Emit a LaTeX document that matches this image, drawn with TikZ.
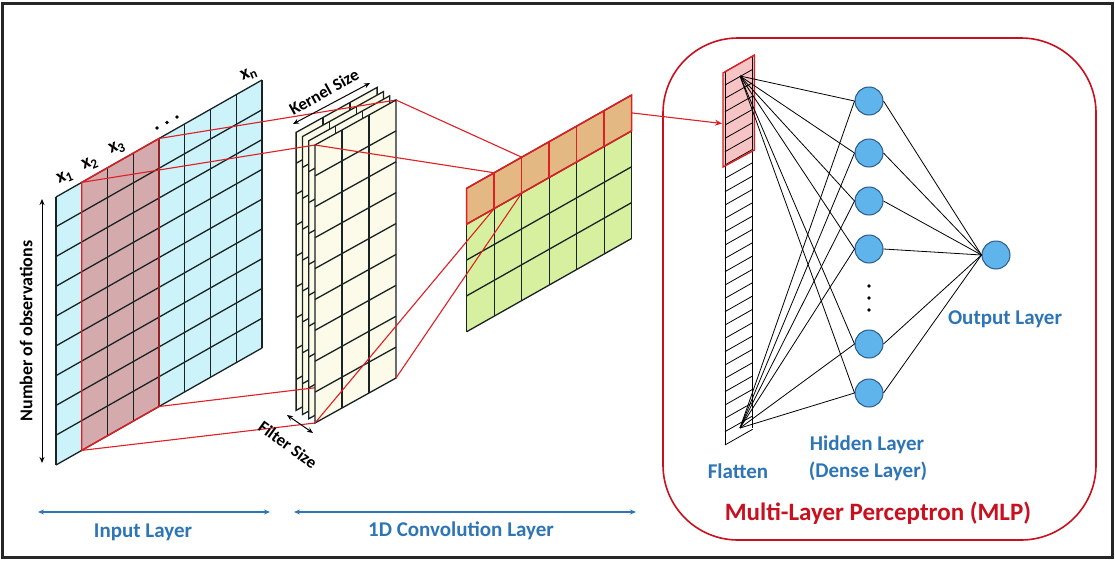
\documentclass[tikz,border=0pt]{standalone}
\usepackage{fontspec}
\setmainfont{Carlito}
\usetikzlibrary{arrows.meta}
\definecolor{cyanf}{RGB}{204,242,250}
\definecolor{rosef}{RGB}{212,170,172}
\definecolor{creamf}{RGB}{252,250,232}
\definecolor{greenf}{RGB}{214,240,160}
\definecolor{orangef}{RGB}{228,184,130}
\definecolor{pinkf}{RGB}{246,196,196}
\definecolor{redl}{RGB}{222,32,36}
\definecolor{mlpred}{RGB}{200,16,30}
\definecolor{bluet}{RGB}{46,117,182}
\definecolor{nodef}{RGB}{96,180,236}
\definecolor{noded}{RGB}{40,90,140}
\definecolor{gridc}{RGB}{25,35,35}
\tikzset{
  gridline/.style={draw=gridc, line width=1.3pt},
  thinline/.style={draw=black, line width=0.8pt},
  redline/.style={draw=redl, line width=1.1pt},
  nnline/.style={draw=black, line width=0.8pt},
  neuron/.style={circle, fill=nodef, draw=noded, line width=1pt, minimum size=28pt, inner sep=0pt},
  bluelabel/.style={text=bluet, font=\bfseries\fontsize{21}{24}\selectfont},
  blacklabel/.style={text=black, font=\bfseries\fontsize{17}{20}\selectfont},
  dimarrow/.style={draw=black, line width=1pt, {Stealth[length=6pt,width=5pt]}-{Stealth[length=6pt,width=5pt]}},
  layerarrow/.style={draw=bluet, line width=1.2pt, {Stealth[length=6pt,width=5pt]}-{Stealth[length=6pt,width=5pt]}},
}
\begin{document}
\begin{tikzpicture}[x=1pt,y=-1pt]
\useasboundingbox (0,0) rectangle (1115,562);
\fill[white] (0,0) rectangle (1115,562);
\draw[draw=black!85, line width=3pt] (2.5,3) rectangle (1112,557);

% ---------------- Input layer ----------------
\coordinate (iTL) at (56,197);
\coordinate (iTR) at (262,80);
\coordinate (iBR) at (262,348);
\coordinate (iBL) at (56,465);
\coordinate (inTL) at (81.75,182.375);
\coordinate (inTR) at (159,138.5);
\coordinate (inBR) at (159,406.5);
\coordinate (inBL) at (81.75,450.375);
\fill[cyanf] (iTL) -- (iTR) -- (iBR) -- (iBL) -- cycle;
\fill[rosef] (inTL) -- (inTR) -- (inBR) -- (inBL) -- cycle;
\foreach \i in {0,...,8} \draw[gridline] ({56+\i*25.75},{197-\i*14.625}) -- ++(0,268);
\foreach \j in {0,...,9} \draw[gridline] (56,{197+\j*29.778}) -- ++(206,-117);
\draw[redline, line width=1.4pt] (inTL) -- (inTR) -- (inBR) -- (inBL) -- cycle;

\node[blacklabel, font=\bfseries\fontsize{19}{22}\selectfont, rotate=22] (lx1) at (65,177) {x\textsubscript{1}};
\node[blacklabel, font=\bfseries\fontsize{19}{22}\selectfont, rotate=22] (lx2) at (90,164) {x\textsubscript{2}};
\node[blacklabel, font=\bfseries\fontsize{19}{22}\selectfont, rotate=22] (lx3) at (117,148) {x\textsubscript{3}};
\node[blacklabel, font=\bfseries\fontsize{19}{22}\selectfont, rotate=22] (lxn) at (249,74) {x\textsubscript{n}};
\fill (157,128) circle (1.9);
\fill (167,122.5) circle (1.9);
\fill (177,117) circle (1.9);

\coordinate (obsT) at (42,199);
\coordinate (obsB) at (42,463);
\draw[dimarrow] (obsT) -- (obsB);
\node[blacklabel, font=\bfseries\fontsize{18}{21}\selectfont, rotate=90] (obs) at (26,331) {Number of observations};

% ---------------- Filters (back sheets) ----------------
\foreach \k in {3,2,1} {
  \begin{scope}[shift={({-6.3*\k},{-4.2*\k})}]
    \filldraw[fill=creamf, gridline] (315,145) -- (396,100) -- (396,378) -- (315,423) -- cycle;
    \foreach \c in {1,2} \draw[gridline] ({315+\c*27},{145-\c*15}) -- ++(0,278);
    \foreach \j in {1,...,8} \draw[gridline] (315,{145+\j*30.89}) -- ++(81,-45);
  \end{scope}
}

\coordinate (fTL) at (315,145);
\coordinate (fTR) at (396,100);
\coordinate (fBR) at (396,378);
\coordinate (fBL) at (315,423);

% input -> filter
\draw[redline] (inTL) -- (fTL);
\draw[redline] (inTR) -- (fTR);
\draw[redline] (inBL) -- (fBL);
\draw[redline] (inBR) -- (fBR);

% front sheet
\filldraw[fill=creamf, gridline] (fTL) -- (fTR) -- (fBR) -- (fBL) -- cycle;
\foreach \c in {1,2} \draw[gridline] ({315+\c*27},{145-\c*15}) -- ++(0,278);
\foreach \j in {1,...,8} \draw[gridline] (315,{145+\j*30.89}) -- ++(81,-45);

\coordinate (kA) at (293,124);
\coordinate (kB) at (370,83);
\draw[dimarrow] (kA) -- (kB);
\node[blacklabel, rotate=29] (kern) at (324,92) {Kernel Size};
\coordinate (sA) at (287,415);
\coordinate (sB) at (313,433);
\draw[dimarrow] (sA) -- (sB);
\node[blacklabel, rotate=-36] (fsz) at (288,445) {Filter Size};

% ---------------- Convolution output ----------------
\coordinate (oTL) at (466.7,188.3);
\coordinate (oTR) at (631.7,95);
\coordinate (oBR) at (631.7,238.4);
\coordinate (oBL) at (466.7,331.7);
\coordinate (oR1L) at (466.7,224.15);
\coordinate (oR1R) at (631.7,130.85);
\fill[greenf] (oTL) -- (oTR) -- (oBR) -- (oBL) -- cycle;
\fill[orangef] (oTL) -- (oTR) -- (oR1R) -- (oR1L) -- cycle;
\foreach \i in {0,...,6} \draw[gridline] ({466.7+\i*27.5},{188.3-\i*15.55}) -- ++(0,143.4);
\foreach \j in {0,...,4} \draw[gridline] (466.7,{188.3+\j*35.85}) -- ++(165,-93.3);
\draw[redline, line width=1.5pt] (oTL) -- (oTR) -- (oR1R) -- (oR1L) -- cycle;
\foreach \i in {1,...,5} \draw[redline, line width=1.5pt] ({466.7+\i*27.5},{188.3-\i*15.55}) -- ++(0,35.85);

\coordinate (oT1) at (494.2,172.75);
\coordinate (oT2) at (521.7,157.2);
\coordinate (oB1) at (494.2,208.6);
\coordinate (oB2) at (521.7,193.05);
\draw[redline] (fTL) -- (oT1);
\draw[redline] (fTR) -- (oT2);
\draw[redline] (fBL) -- (oB1);
\draw[redline] (fBR) -- (oB2);

% ---------------- MLP ----------------
\draw[draw=mlpred, line width=1.6pt, rounded corners=75pt] (663,38) rectangle (1096,540);

% flatten column
\coordinate (flTL) at (725,71.7);
\coordinate (flTR) at (752.7,56);
\coordinate (flBR) at (752.7,428.3);
\coordinate (flBL) at (725,445);
\coordinate (rTL) at (723,73);
\coordinate (rTR) at (754.5,55);
\coordinate (rBR) at (754.5,150);
\coordinate (rBL) at (723,167);
\fill[pinkf] (rTL) -- (rTR) -- (rBR) -- (rBL) -- cycle;
\draw[thinline] (flTL) -- (flBL);
\draw[thinline] (flTR) -- (flBR);
\foreach \j in {0,...,28} \draw[thinline] (725,{71.7+\j*13.33}) -- ++(27.7,-15.7);
\draw[redline, line width=1.4pt] (rTL) -- (rTR) -- (rBR) -- (rBL) -- cycle;

% arrow conv -> flatten
\coordinate (cvOut) at (631.7,112.9);
\coordinate (flIn) at (722,123.5);
\draw[redline, -{Stealth[length=7pt,width=6pt]}] (cvOut) -- (flIn);

% neurons
\node[neuron] (h1) at (869,101) {};
\node[neuron] (h2) at (869,153) {};
\node[neuron] (h3) at (869,201) {};
\node[neuron] (h4) at (869,249) {};
\node[neuron] (h5) at (869,344) {};
\node[neuron] (h6) at (869,393) {};
\node[neuron] (o) at (996,255) {};
\fill (869,286) circle (1.8);
\fill (869,298) circle (1.8);
\fill (869,310) circle (1.8);

\coordinate (ftop) at (740,76);
\coordinate (fbot) at (740,428);
\foreach \n in {1,...,6} {
  \draw[nnline] (ftop) -- (h\n.west);
  \draw[nnline] (fbot) -- (h\n.west);
  \draw[nnline] (h\n.east) -- (o.west);
}

% labels
\node[bluelabel] (lflat) at (738,471) {Flatten};
\node[bluelabel] (lhid) at (867,445) {Hidden Layer};
\node[bluelabel] (ldense) at (868,471) {(Dense Layer)};
\node[bluelabel] (lout) at (1005,319) {Output Layer};
\node[text=mlpred, font=\bfseries\fontsize{25}{28}\selectfont] (lmlp) at (878,513) {Multi-Layer Perceptron (MLP)};

% bottom layer arrows
\coordinate (ia) at (38,512);
\coordinate (ib) at (270,512);
\coordinate (ca) at (294,512);
\coordinate (cb) at (636,512);
\draw[layerarrow] (ia) -- (ib);
\draw[layerarrow] (ca) -- (cb);
\node[bluelabel] (linp) at (143,532) {Input Layer};
\node[bluelabel] (lconv) at (461,531) {1D Convolution Layer};
\end{tikzpicture}
\end{document}
